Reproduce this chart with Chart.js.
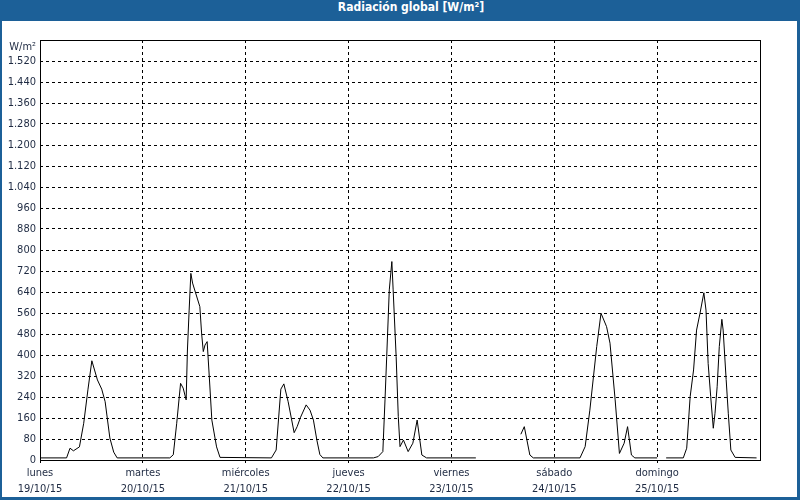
<!DOCTYPE html>
<html>
<head>
<meta charset="utf-8">
<script src="https://cdn.jsdelivr.net/npm/chart.js@4"></script>
<style>
  body { margin: 0; background: #fff; }
  #wrap { position: relative; width: 800px; height: 500px; overflow: hidden; }
  #title {
    position: absolute; left: 0; top: 0; width: 800px; height: 21px; box-sizing: border-box;
    padding-left: 22px; background: #1c6098; color: #fff; text-align: center; line-height: 21px;
    font: bold 12px "DejaVu Sans Condensed", "DejaVu Sans", sans-serif;
  }
  #frame {
    position: absolute; left: 0; top: 0; width: 800px; height: 500px; box-sizing: border-box;
    border: solid #1c6098; border-width: 0 3px 3px 2px; pointer-events: none;
  }
  canvas { position: absolute; left: 0; top: 0; }
</style>
</head>
<body>
<div id="wrap">
  <canvas id="chart" width="800" height="500"></canvas>
  <div id="title">Radiación global [W/m²]</div>
  <div id="frame"></div>
</div>
<script>
// hours since lunes 19/10/15 00:00
const hours = [
  0, 6.2, 7.0, 7.8, 9.2, 10.2, 11.2, 12.1, 13.4, 14.4, 15.2, 16.3, 17.2, 18.0,
  30.3, 31.1, 31.9, 32.8, 33.4, 34.1, 34.4, 34.8, 35.2, 35.6, 37.3, 37.7, 38.1, 38.5, 39.0, 39.5, 40.1, 41.2, 42.0,
  54.0, 55.1, 56.2, 56.9, 57.9, 59.3, 60.0, 60.8, 62.1, 63.0, 63.8, 64.6, 65.3, 66.0,
  77.8, 78.9, 80.0, 80.5, 80.9, 81.5, 82.1, 82.4, 83.1, 83.6, 84.0, 84.8, 85.9, 87.0, 88.0, 89.1, 90.2, 101.7,
  106,
  112.2, 113.0, 114.3, 115.1, 126.0, 127.2, 128.3, 129.9, 130.9, 132.2, 133.0, 134.2, 135.2, 136.3, 137.1, 138.0, 138.8, 144.0,
  145,
  146.1, 150.1, 150.9, 151.7, 152.5, 153.2, 154.0, 154.9, 155.4, 155.9, 156.5, 157.1, 157.5, 158.0, 158.5, 159.1, 159.4,
  160.1, 160.6, 161.2, 162.2, 167.2
];
const radiation = [
  8, 8, 45, 35, 50, 140, 270, 378, 305, 270, 222, 84, 30, 8,
  8, 20, 140, 292, 274, 229, 419, 571, 711, 674, 584, 484, 413, 438, 451, 317, 152, 50, 10,
  8, 38, 270, 290, 222, 104, 127, 163, 210, 190, 152, 76, 21, 8,
  8, 13, 32, 229, 394, 648, 756, 648, 394, 165, 51, 76, 32, 64, 152, 19, 8, 8,
  null,
  98, 127, 19, 8, 8, 51, 190, 432, 559, 508, 445, 229, 25, 64, 127, 19, 8, 8,
  null,
  8, 8, 45, 241, 343, 495, 559, 637, 571, 368, 241, 121, 178, 279, 432, 536, 495,
  307, 178, 38, 10, 8
];

const dayStarts = [0, 24, 48, 72, 96, 120, 144];
const dayNames = ['lunes', 'martes', 'miércoles', 'jueves', 'viernes', 'sábado', 'domingo'];
const dayDates = ['19/10/15', '20/10/15', '21/10/15', '22/10/15', '23/10/15', '24/10/15', '25/10/15'];
const yMax = 1600;
const yStep = 80;
const unitLabel = 'W/m²';

const fontFamily = '"DejaVu Sans Condensed", "DejaVu Sans", sans-serif';
const textColor = '#1e2a42';
Chart.defaults.font.family = fontFamily;
Chart.defaults.font.size = 11;
Chart.defaults.color = textColor;

function withDots(v) {
  return String(v).replace(/\B(?=(\d{3})+(?!\d))/g, '.');
}

// solid box round the plot + unit label
const framePlugin = {
  id: 'framePlugin',
  afterDraw(chart) {
    const { ctx, chartArea: a } = chart;
    ctx.save();
    ctx.strokeStyle = '#000';
    ctx.lineWidth = 1;
    ctx.setLineDash([]);
    ctx.strokeRect(a.left + 0.5, a.top + 0.5, a.right - a.left, a.bottom - a.top);
    ctx.fillStyle = textColor;
    ctx.font = '11px ' + fontFamily;
    ctx.textAlign = 'right';
    ctx.textBaseline = 'middle';
    ctx.fillText(unitLabel, a.left - 4, a.top + 7);
    ctx.restore();
  }
};

new Chart(document.getElementById('chart'), {
  type: 'line',
  data: {
    datasets: [{
      data: hours.map((h, i) => ({ x: h, y: radiation[i] })),
      borderColor: '#000',
      borderWidth: 1,
      pointRadius: 0,
      tension: 0,
      spanGaps: false,
      fill: false,
    }],
  },
  options: {
    responsive: false,
    animation: false,
    layout: { padding: { top: 40, right: 40, left: 0, bottom: 0 } },
    plugins: { legend: { display: false }, tooltip: { enabled: false } },
    scales: {
      x: {
        type: 'linear',
        min: 0,
        max: 168,
        afterBuildTicks: s => { s.ticks = dayStarts.map(v => ({ value: v })); },
        afterFit: s => { s.height = 40; },
        ticks: {
          autoSkip: false,
          maxRotation: 0,
          padding: 2,
          font: { size: 11, lineHeight: 1.45 },
          callback: (v, i) => [dayNames[i], dayDates[i]],
        },
        grid: { color: '#000', lineWidth: 1, drawTicks: true, tickLength: 3, tickColor: '#000' },
        border: { display: false, dash: [3, 3] },
      },
      y: {
        min: 0,
        max: yMax,
        afterFit: s => { s.width = 40; },
        ticks: {
          stepSize: yStep,
          padding: 4,
          callback: v => (v === yMax ? '' : withDots(v)),
        },
        grid: { color: '#000', lineWidth: 1, drawTicks: false },
        border: { display: false, dash: [3, 3] },
      },
    },
  },
  plugins: [framePlugin],
});
</script>
</body>
</html>
